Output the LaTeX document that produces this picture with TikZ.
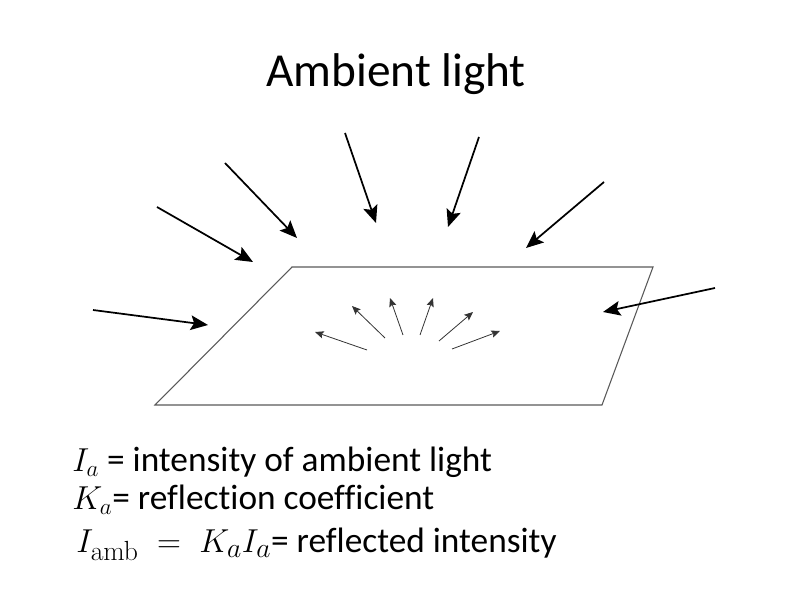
\documentclass[tikz,border=0pt]{standalone}
\usepackage[no-math]{fontspec}
\setmainfont[Ligatures=NoCommon]{Carlito}
\usepackage{amsmath}
\usepackage{tikz}
\usetikzlibrary{arrows.meta}
\tikzset{
  inray/.style={line width=1.3pt,-{Stealth[length=13pt,width=11pt,inset=2.5pt]}},
  outray/.style={line width=0.6pt,black!80,-{Stealth[length=6.5pt,width=5.5pt,inset=1.2pt]}},
  body/.style={anchor=base west,inner sep=0pt,font=\fontsize{26.5}{30}\selectfont}
}
\begin{document}
\begin{tikzpicture}[x=0.75pt,y=-0.75pt]
\useasboundingbox(0,0)rectangle(794,595);
\node[font=\fontsize{35.5}{40}\selectfont,anchor=base] (title) at (396,87) {Ambient light};
% surface
\draw[black!65,line width=0.8pt](292,267)--(653,267)--(602,405)--(155,405)--cycle;
% incoming light
\foreach \sx/\sy/\tx/\ty in {93/310/208/325,157/207/253/262,225/163/297/238,
  345/133/376/223,479/137/448/227,604/182/526/248,715/288/603/312}
  \draw[inray](\sx,\sy)--(\tx,\ty);
% reflected light
\foreach \sx/\sy/\tx/\ty in {367/350/315/332,385/338/352/306,403/335/390/298,
  420/335/433/298,439/341/473/312,452/349/500/331}
  \draw[outray](\sx,\sy)--(\tx,\ty);
\node[body] (ia) at (72,472) {$I_a$ = intensity of ambient light};
\node[body] (ka) at (72,510) {$K_a$= reflection coefficient};
\node[body] (iamb) at (76,553) {{\fontsize{29}{30}\selectfont$I_{\mathrm{amb}} \;=\; K_aI_a$}= reflected intensity};
\end{tikzpicture}
\end{document}
